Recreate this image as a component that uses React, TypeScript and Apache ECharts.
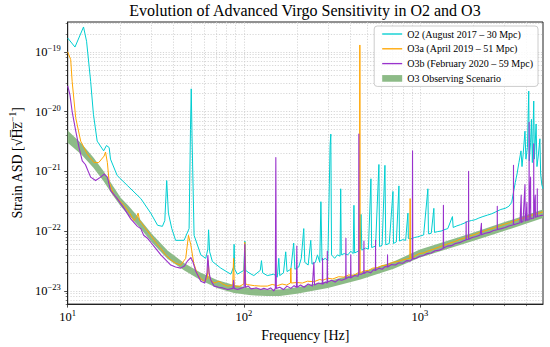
import React, { useEffect, useRef } from 'react';
import * as echarts from 'echarts';

// ---------- data (frequency in Hz, amplitude spectral density in 1/sqrt(Hz)) ----------
const o2Name = 'O2 (August 2017 \u2013 30 Mpc)';
const o3aName = 'O3a (April 2019 \u2013 51 Mpc)';
const o3bName = 'O3b (February 2020 \u2013 59 Mpc)';
const bandName = 'O3 Observing Scenario';

const o2Points: [number, number][] = [
  [10, 1.7e-19], [11, 1.2e-19], [12.3, 2.6e-19], [12.8, 1.5e-19], [13.5, 3.2e-20], [14.0, 9e-21],
  [14.7, 3.2e-21], [16.0, 2.2e-21], [16.6, 2.7e-21], [17.2, 2.5e-21], [17.5, 1.6e-21], [19.1, 8.5e-22],
  [21.8, 5.8e-22], [26, 3.5e-22], [29.6, 2.0e-22], [32.4, 1.25e-22], [34.5, 1.2e-22], [35.6, 1.5e-22],
  [36.5, 7e-22], [37.3, 2e-22], [39, 1.1e-22], [41, 7e-23], [45.8, 7e-23], [48.9, 1.1e-22],
  [49.8, 5e-21], [50.3, 2.4e-20], [50.8, 4e-21], [52.2, 8.5e-23], [57, 4e-23], [60.8, 3.5e-23],
  [62.5, 5e-23], [63.1, 1.05e-22], [64, 4.5e-23], [66.3, 3.1e-23], [74, 2.4e-23], [84.4, 1.9e-23],
  [87.5, 2.5e-23], [88.1, 6e-23], [88.8, 2.3e-23], [92, 1.9e-23], [100, 2.2e-23], [101.4, 6.8e-23],
  [102.5, 2.2e-23], [107, 2e-23], [114, 1.8e-23], [124, 2.2e-23], [126, 3.2e-23], [128, 2.0e-23],
  [136, 1.8e-23], [148, 1.9e-23], [155, 1.7e-23], [158, 3.5e-23], [160, 1.8e-23], [168, 2.0e-23],
  [173, 4.5e-23], [176, 2.1e-23], [185, 2.3e-23], [192, 6.3e-23], [195, 2.3e-23], [205, 2.5e-23],
  [212, 3.5e-23], [219, 1.1e-22], [222, 3.0e-23], [232, 2.7e-23], [240, 7e-23], [244, 2.8e-23],
  [255, 3.0e-23], [262, 4.0e-23], [270, 3.0e-23], [274, 3.1e-22], [278, 3.2e-23], [290, 3.5e-23],
  [300, 3.2e-23], [306, 6e-22], [309, 2.7e-21], [312, 4.2e-21], [315, 4.0e-23], [328, 3.5e-23],
  [340, 4e-23], [352, 3.8e-23], [355, 5.1e-22], [358, 4.0e-23], [372, 4.2e-23], [390, 4.0e-23],
  [405, 4.6e-23], [418, 4.2e-23], [422, 2.7e-22], [426, 4.3e-23], [445, 4.6e-23], [458, 5e-23],
  [463, 1.9e-22], [468, 4.8e-23], [490, 5.2e-23], [510, 5.0e-23], [527, 7.5e-22], [532, 5.3e-23],
  [560, 5.6e-23], [585, 1.3e-21], [590, 5.5e-23], [610, 5.8e-23], [633, 1.26e-21], [640, 5.9e-23],
  [670, 6.2e-23], [703, 4.6e-22], [708, 6.2e-23], [735, 6.6e-23], [760, 5.7e-22], [766, 6.8e-23],
  [800, 7.2e-23], [830, 7.0e-23], [855, 2.0e-22], [860, 7.5e-23], [890, 7.4e-23], [930, 7.8e-23],
  [970, 8.0e-23], [1010, 8.3e-23], [1050, 8.6e-23], [1110, 5.1e-22], [1118, 9e-23], [1160, 9.2e-23],
  [1200, 2.4e-22], [1210, 9.5e-23], [1260, 9.8e-23], [1320, 1.0e-22], [1370, 1.05e-22], [1440, 1.1e-22],
  [1530, 1.75e-22], [1545, 1.15e-22], [1620, 1.22e-22], [1700, 1.28e-22], [1780, 1.35e-22], [1870, 1.45e-22],
  [1960, 1.5e-22], [2060, 1.55e-22], [2160, 1.65e-22], [2280, 1.75e-22], [2420, 1.85e-22], [2560, 1.95e-22],
  [2700, 2.1e-22], [2880, 2.3e-22], [3050, 2.4e-22], [3200, 2.6e-22], [3320, 3.0e-22], [3400, 4.5e-22],
  [3480, 6.5e-22], [3560, 9e-22], [3650, 1.4e-21], [3750, 2.2e-21], [3800, 1.2e-21], [3850, 1.8e-21],
  [3950, 4.7e-21], [4000, 1.6e-21], [4080, 2.5e-21], [4150, 2.2e-20], [4180, 1.5e-21], [4250, 3e-21],
  [4300, 7.4e-21], [4350, 1.4e-21], [4430, 1.5e-20], [4470, 1.6e-21], [4570, 6.2e-21], [4620, 1.2e-21],
  [4700, 1.8e-21], [4800, 3.5e-21], [4850, 9e-22], [4920, 6e-22], [5000, 5.1e-22],
];

const o3aPoints: [number, number][] = [
  [10, 1.0e-19], [10.4, 7.4e-20], [10.6, 3.2e-20], [11.1, 7.9e-21], [11.85, 3.2e-21], [12.9, 1.95e-21],
  [14.1, 1.4e-21], [15.0, 1.4e-21], [16.1, 1.8e-21], [16.4, 2.1e-21], [16.8, 1.4e-21], [17.2, 6.6e-22],
  [18.3, 4.0e-22], [20.9, 2.7e-22], [22.5, 2.0e-22], [23.8, 1.5e-22], [24.6, 1.7e-22], [25.1, 2.0e-22],
  [25.6, 1.5e-22], [26.3, 1.35e-22], [28, 1.05e-22], [29.6, 8.5e-23], [31.5, 6.6e-23], [33.8, 5.1e-23],
  [36, 4.0e-23], [38.5, 3.3e-23], [41, 2.9e-23], [43.8, 2.7e-23], [46.8, 3.5e-23], [48.5, 8.5e-23],
  [50, 5.9e-23], [52, 2.9e-23], [54.5, 1.9e-23], [57, 1.6e-23], [59.6, 1.45e-23], [62, 1.6e-23],
  [62.8, 3.2e-23], [63.8, 1.6e-23], [67.8, 1.35e-23], [72.3, 1.45e-23], [76, 1.3e-23], [80.9, 1.2e-23],
  [86.5, 1.25e-23], [87.5, 3.5e-23], [88.3, 1.2e-23], [95, 1.2e-23], [100, 1.3e-23], [101.3, 6.5e-23],
  [102.5, 1.3e-23], [105, 1.27e-23], [115, 1.22e-23], [125, 1.2e-23], [136, 1.2e-23], [145, 1.28e-23],
  [155, 1.22e-23], [165, 1.3e-23], [175, 1.25e-23], [184, 1.35e-23], [185, 2.4e-23], [186, 1.35e-23],
  [200, 1.38e-23], [215, 1.35e-23], [230, 1.45e-23], [250, 1.42e-23], [270, 1.55e-23], [280, 1.5e-23],
  [300, 1.62e-23], [320, 1.58e-23], [345, 1.72e-23], [370, 1.7e-23], [395, 1.85e-23], [420, 1.82e-23],
  [445, 2.0e-23], [454, 2.0e-23], [456, 1.3e-19], [458, 2.0e-23], [480, 2.15e-23], [510, 2.2e-23],
  [540, 2.4e-23], [575, 2.45e-23], [610, 2.65e-23], [650, 2.7e-23], [700, 3.0e-23], [750, 3.1e-23],
  [800, 3.3e-23], [850, 3.45e-23], [878, 3.5e-23], [880, 3.5e-22], [882, 3.5e-23], [930, 3.8e-23],
  [990, 4.2e-23], [1050, 4.3e-23], [1120, 4.7e-23], [1200, 5.0e-23], [1280, 5.4e-23], [1370, 5.8e-23],
  [1460, 6.2e-23], [1560, 6.6e-23], [1670, 7.2e-23], [1780, 7.6e-23], [1900, 8.2e-23], [2030, 8.7e-23],
  [2170, 9.4e-23], [2320, 1.0e-22], [2480, 1.07e-22], [2650, 1.14e-22], [2830, 1.22e-22], [3020, 1.3e-22],
  [3230, 1.38e-22], [3450, 1.48e-22], [3690, 1.58e-22], [3940, 1.68e-22], [4210, 1.8e-22], [4500, 1.92e-22],
  [4800, 2.02e-22], [5000, 2.1e-22],
];

const o3bPoints: [number, number][] = [
  [10, 2.7e-20], [10.3, 1.9e-20], [10.6, 1.0e-20], [11.1, 4.8e-21], [11.6, 2.5e-21], [12.1, 1.5e-21],
  [12.6, 1.3e-21], [13.5, 8e-22], [14.4, 7e-22], [15.4, 8e-22], [16.1, 9e-22], [16.8, 8e-22],
  [17.5, 4.8e-22], [19.1, 3.5e-22], [20.9, 2.4e-22], [22.8, 1.6e-22], [24.9, 1.2e-22], [26, 1.1e-22],
  [27, 8.5e-23], [28.5, 7.5e-23], [29.6, 6.5e-23], [31.5, 5.2e-23], [33.8, 4.0e-23], [36, 3.3e-23],
  [38.5, 2.7e-23], [41, 2.5e-23], [43.8, 2.4e-23], [46, 2.6e-23], [47.7, 3.1e-23], [50, 3.6e-23],
  [51.5, 3.0e-23], [53.3, 2.15e-23], [57, 1.45e-23], [60, 1.35e-23], [61.8, 2.0e-23], [62.5, 3.9e-23],
  [63.5, 2.0e-23], [65, 1.5e-23], [67.8, 1.2e-23], [72, 1.15e-23], [76, 1.12e-23], [80.9, 1.05e-23],
  [86.8, 1.1e-23], [87.5, 1.5e-23], [88.2, 1.1e-23], [92, 1.05e-23], [96, 1.1e-23], [100.4, 1.15e-23],
  [101.3, 6.0e-23], [102.2, 1.15e-23], [106, 1.2e-23], [110, 1.08e-23], [118, 1.12e-23], [125, 1.05e-23],
  [130, 1.1e-23], [136, 1.05e-23], [142, 1.12e-23], [148, 1.0e-23], [151, 1.1e-23], [152, 1.7e-21],
  [153, 1.1e-23], [160, 1.15e-23], [168, 1.05e-23], [176, 1.2e-23], [185, 1.1e-23], [193, 1.22e-23],
  [199, 1.15e-23], [200, 5.6e-23], [201, 1.15e-23], [210, 1.25e-23], [220, 1.15e-23], [232, 1.3e-23],
  [245, 1.2e-23], [250, 3.0e-23], [252, 1.25e-23], [265, 1.35e-23], [279, 1.3e-23], [280, 3.5e-23],
  [281, 1.3e-23], [290, 1.4e-23], [297, 1.35e-23], [298, 4.6e-23], [299, 1.4e-23], [315, 1.5e-23],
  [330, 1.4e-23], [345, 1.55e-23], [360, 1.5e-23], [379, 1.6e-23], [380, 7.6e-23], [381, 1.6e-23],
  [395, 1.7e-23], [404, 1.65e-23], [405, 4e-23], [406, 1.65e-23], [425, 1.8e-23], [445, 1.75e-23],
  [449, 1.9e-23], [450, 4.2e-21], [451, 1.9e-23], [465, 1.9e-23], [480, 2.0e-23], [481, 6.8e-23],
  [482, 1.95e-23], [500, 2.1e-23], [525, 2.0e-23], [545, 2.25e-23], [559, 2.2e-23], [560, 7e-23],
  [561, 2.2e-23], [585, 2.4e-23], [610, 2.3e-23], [635, 2.55e-23], [654, 2.5e-23], [655, 4e-23],
  [656, 2.5e-23], [690, 2.75e-23], [725, 2.7e-23], [760, 2.95e-23], [800, 2.9e-23], [840, 3.2e-23],
  [880, 3.15e-23], [905, 3.4e-23], [908, 2.2e-21], [911, 3.4e-23], [950, 3.5e-23], [1000, 3.8e-23],
  [1050, 3.9e-23], [1100, 4.2e-23], [1160, 4.3e-23], [1220, 4.7e-23], [1290, 4.8e-23], [1357, 5.1e-23],
  [1360, 2.7e-22], [1363, 5.2e-23], [1430, 5.6e-23], [1510, 5.7e-23], [1590, 6.2e-23], [1680, 6.4e-23],
  [1770, 6.9e-23], [1828, 7.1e-23], [1830, 1.45e-22], [1833, 7.2e-23], [1887, 7.3e-23], [1890, 1.0e-21],
  [1893, 7.3e-23], [1980, 7.8e-23], [2090, 8.1e-23], [2200, 8.6e-23], [2235, 1.35e-22], [2240, 8.7e-23],
  [2350, 9.2e-23], [2480, 9.5e-23], [2620, 1.02e-22], [2748, 1.05e-22], [2750, 2.6e-22], [2753, 1.06e-22],
  [2900, 1.1e-22], [3050, 1.15e-22], [3200, 1.22e-22], [3395, 1.28e-22], [3400, 1.26e-21], [3405, 1.28e-22],
  [3550, 1.33e-22], [3700, 1.38e-22], [3760, 4e-22], [3770, 1.4e-22], [3850, 1.45e-22], [3950, 6e-22],
  [3960, 1.48e-22], [4000, 1.5e-22], [4050, 3e-22], [4060, 1.52e-22], [4165, 1.55e-22], [4170, 6.6e-21],
  [4175, 1.55e-22], [4250, 8e-22], [4260, 1.6e-22], [4300, 1.62e-22], [4425, 1.65e-22], [4430, 2.9e-21],
  [4435, 1.65e-22], [4520, 4e-22], [4530, 1.7e-22], [4635, 1.75e-22], [4640, 5.1e-22], [4645, 1.75e-22],
  [4800, 1.8e-22], [5000, 1.85e-22],
];

// O3 observing scenario band: [frequency, lower ASD, upper ASD]
const bandPoints: [number, number, number][] = [
  [10, 3.0e-21, 4.8e-21], [12, 1.9e-21, 2.9e-21], [14, 1.15e-21, 1.7e-21], [16, 6.8e-22, 1.0e-21],
  [18, 4.0e-22, 5.8e-22], [20, 2.6e-22, 3.6e-22], [22, 1.9e-22, 2.7e-22], [25, 1.25e-22, 1.75e-22],
  [30, 6.5e-23, 9.0e-23], [37, 3.4e-23, 4.7e-23], [46, 2.2e-23, 2.9e-23], [57, 1.5e-23, 2.0e-23],
  [71, 1.1e-23, 1.5e-23], [88, 9.2e-24, 1.25e-23], [110, 8.4e-24, 1.1e-23], [136, 8.2e-24, 1.05e-23],
  [160, 8.2e-24, 1.05e-23], [200, 8.9e-24, 1.15e-23], [300, 1.12e-23, 1.45e-23], [460, 1.55e-23, 2.0e-23],
  [710, 2.35e-23, 3.1e-23], [1000, 3.6e-23, 4.9e-23], [2000, 6.8e-23, 9.4e-23], [3000, 1.0e-22, 1.4e-22],
  [5000, 1.65e-22, 2.3e-22],
];

// axis ranges and ticks
const xRange = [10, 5000];
const yRange = [6.0e-24, 3.15e-19];
const xMajorTicks = [10, 100, 1000];
const xMinorTicks = [20, 30, 40, 50, 60, 70, 80, 90, 200, 300, 400, 500, 600, 700, 800, 900, 2000, 3000, 4000];
const yMajorTicks = [1e-23, 1e-22, 1e-21, 1e-20, 1e-19];
const yMinorMantissas = [2, 3, 4, 5, 6, 7, 8, 9];
const yMinorDecades = [-24, -23, -22, -21, -20, -19];

const colors = {
  o2: '#00ced1',
  o3a: '#ffa500',
  o3b: '#9932cc',
  band: '#8dbb87',
  axis: '#222222',
  grid: '#cdcdcd',
};

const fontFamily = "'Liberation Serif', 'DejaVu Serif', serif";
const lg = (v: number) => Math.log10(v);
const lineIcon = 'path://M0,0 L21,0 L21,1.4 L0,1.4 Z';
const patchIcon = 'path://M0,0 L21,0 L21,7 L0,7 Z';

export default function App() {
  const ref = useRef<HTMLDivElement>(null);

  useEffect(() => {
    document.body.style.margin = '0';
    if (!ref.current) return;
    const chart = echarts.init(ref.current, undefined, { renderer: 'svg' });

    const yMinorTicks: number[] = [];
    yMinorDecades.forEach((d) =>
      yMinorMantissas.forEach((m) => {
        const v = lg(m) + d;
        if (v >= lg(yRange[0]) && v <= lg(yRange[1])) yMinorTicks.push(v);
      })
    );

    const expLabel = (v: number) => {
      const e = Math.round(v);
      const s = e < 0 ? '\u2212' + Math.abs(e) : String(e);
      return `{b|10}{s|${s}}`;
    };
    const richTick = {
      b: { fontSize: 12.5, lineHeight: 17, fontFamily, color: '#000' },
      s: { fontSize: 8.5, lineHeight: 10, verticalAlign: 'top', fontFamily, color: '#000' },
    };
    const gridLine = { show: true, lineStyle: { color: colors.grid, width: 0.8, type: [1.2, 1.6] } };

    const xBase = { type: 'value', position: 'bottom', min: lg(xRange[0]), max: lg(xRange[1]) };
    const yBase = { type: 'value', position: 'left', min: lg(yRange[0]), max: lg(yRange[1]) };

    const toLine = (pts: [number, number][]) => pts.map((p) => [lg(p[0]), lg(p[1])]);

    const lineSeries = (name: string, pts: [number, number][], color: string, width: number) => ({
      type: 'line',
      name,
      data: toLine(pts),
      showSymbol: false,
      symbol: 'none',
      silent: true,
      clip: true,
      lineStyle: { color, width, join: 'round' },
      itemStyle: { color },
      z: 3,
    });

    chart.setOption({
      animation: false,
      backgroundColor: '#ffffff',
      title: {
        text: 'Evolution of Advanced Virgo Sensitivity in O2 and O3',
        left: 305,
        top: 2,
        textAlign: 'center',
        padding: 0,
        textStyle: { fontFamily, fontSize: 16, fontWeight: 'normal', color: '#000' },
      },
      grid: {
        left: 67, right: 7, top: 22, bottom: 41,
        show: true, borderColor: colors.axis, borderWidth: 1, backgroundColor: 'transparent',
      },
      legend: {
        orient: 'vertical',
        right: 12,
        top: 26,
        itemWidth: 20,
        itemHeight: 10,
        itemGap: 4.8,
        padding: [3, 5, 3, 8],
        backgroundColor: 'rgba(255,255,255,0.85)',
        borderColor: '#cccccc',
        borderWidth: 1,
        borderRadius: 3,
        textStyle: { fontFamily, fontSize: 10, color: '#000' },
        data: [
          { name: o2Name, icon: lineIcon },
          { name: o3aName, icon: lineIcon },
          { name: o3bName, icon: lineIcon },
          { name: bandName, icon: patchIcon },
        ],
      },
      xAxis: [
        {
          ...xBase,
          axisLine: { show: true, onZero: false, lineStyle: { color: colors.axis, width: 1 } },
          axisTick: { show: true, inside: false, length: 3.5, customValues: xMajorTicks.map(lg), lineStyle: { color: colors.axis, width: 0.8 } },
          axisLabel: { show: true, customValues: xMajorTicks.map(lg), formatter: expLabel, rich: richTick, margin: 4, fontFamily },
          splitLine: gridLine,
          name: 'Frequency [Hz]',
          nameLocation: 'middle',
          nameGap: 18,
          nameTextStyle: { fontFamily, fontSize: 14, color: '#000' },
        },
        {
          ...xBase,
          axisLine: { show: false, onZero: false },
          axisTick: { show: true, inside: false, length: 2, customValues: xMinorTicks.map(lg), lineStyle: { color: colors.axis, width: 0.6 } },
          axisLabel: { show: false },
          splitLine: gridLine,
        },
      ],
      yAxis: [
        {
          ...yBase,
          axisLine: { show: true, onZero: false, lineStyle: { color: colors.axis, width: 1 } },
          axisTick: { show: true, inside: false, length: 3.5, customValues: yMajorTicks.map(lg), lineStyle: { color: colors.axis, width: 0.8 } },
          axisLabel: { show: true, customValues: yMajorTicks.map(lg), formatter: expLabel, rich: richTick, margin: 7, fontFamily },
          splitLine: gridLine,
          name: '{a|Strain ASD [\u221AH\u0305z\u0305}{s|\u22121}{a|]}',
          nameLocation: 'middle',
          nameGap: 40,
          nameTextStyle: {
            fontFamily, fontSize: 14, color: '#000',
            rich: {
              a: { fontFamily, fontSize: 14, lineHeight: 18, color: '#000' },
              s: { fontFamily, fontSize: 9.5, lineHeight: 11, verticalAlign: 'top', color: '#000' },
            },
          },
        },
        {
          ...yBase,
          axisLine: { show: false, onZero: false },
          axisTick: { show: true, inside: false, length: 2, customValues: yMinorTicks, lineStyle: { color: colors.axis, width: 0.6 } },
          axisLabel: { show: false },
          splitLine: gridLine,
        },
      ],
      series: [
        {
          type: 'custom',
          name: bandName,
          silent: true,
          z: 2,
          itemStyle: { color: colors.band },
          data: [[lg(bandPoints[0][0]), lg(bandPoints[0][2])]],
          renderItem: (_params: any, api: any) => {
            const upper = bandPoints.map((p) => api.coord([lg(p[0]), lg(p[2])]));
            const lower = bandPoints.slice().reverse().map((p) => api.coord([lg(p[0]), lg(p[1])]));
            return {
              type: 'polygon',
              shape: { points: upper.concat(lower) },
              style: { fill: colors.band, stroke: 'none' },
            };
          },
        },
        lineSeries(o2Name, o2Points, colors.o2, 1),
        lineSeries(o3aName, o3aPoints, colors.o3a, 1),
        lineSeries(o3bName, o3bPoints, colors.o3b, 1.1),
      ],
    });

    return () => chart.dispose();
  }, []);

  return <div ref={ref} style={{ width: 550, height: 347 }} />;
}
